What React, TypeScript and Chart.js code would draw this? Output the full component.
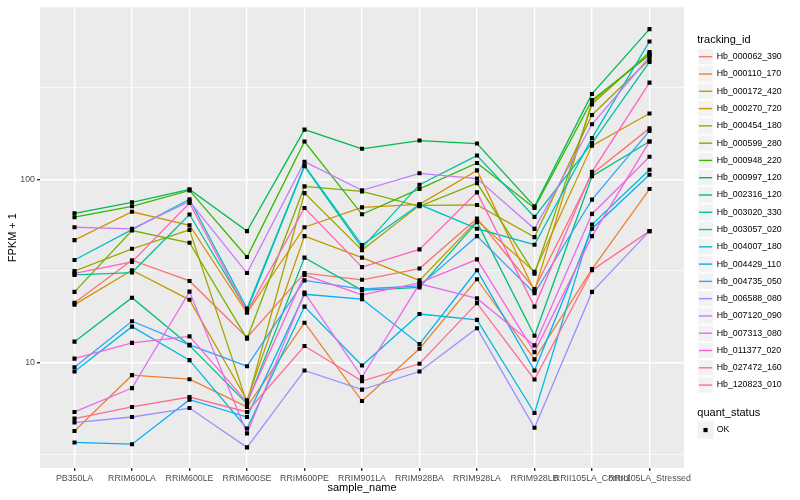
import React, { useEffect, useRef } from "react";
import { Chart, registerables } from "chart.js";

Chart.register(...registerables);

const categories = [
  "PB350LA",
  "RRIM600LA",
  "RRIM600LE",
  "RRIM600SE",
  "RRIM600PE",
  "RRIM901LA",
  "RRIM928BA",
  "RRIM928LA",
  "RRIM928LB",
  "RRII105LA_Control",
  "RRII105LA_Stressed",
];

const trackingIds = [
  "Hb_000062_390",
  "Hb_000110_170",
  "Hb_000172_420",
  "Hb_000270_720",
  "Hb_000454_180",
  "Hb_000599_280",
  "Hb_000948_220",
  "Hb_000997_120",
  "Hb_002316_120",
  "Hb_003020_330",
  "Hb_003057_020",
  "Hb_004007_180",
  "Hb_004429_110",
  "Hb_004735_050",
  "Hb_006588_080",
  "Hb_007120_090",
  "Hb_007313_080",
  "Hb_011377_020",
  "Hb_027472_160",
  "Hb_120823_010",
];

const seriesColors = [
  "#F8766D", "#EA8331", "#D89000", "#C09B00", "#A3A500",
  "#7CAE00", "#39B600", "#00BB4E", "#00BF7D", "#00C1A3",
  "#00BFC4", "#00BAE0", "#00B0F6", "#35A2FF", "#9590FF",
  "#C77CFF", "#E76BF3", "#FA62DB", "#FF62BC", "#FF6C91",
];

// FPKM + 1 per sample, in the order of `categories`
const hb_000062_390 = [21.2, 36.2, 27.9, 13.7, 30.8, 28.3, 32.6, 61.2, 25.2, 107, 190];
const hb_000110_170 = [4.23, 8.53, 8.11, 5.72, 16.5, 6.16, 11.9, 28.5, 10.4, 32.4, 88.6];
const hb_000172_420 = [46.6, 66.6, 56.2, 18.7, 54.8, 70.4, 73.1, 112, 24.6, 265, 487];
const hb_000270_720 = [20.7, 31.9, 22.0, 6.22, 49.0, 37.4, 28.1, 59.6, 31.3, 153, 229];
const hb_000454_180 = [31.6, 41.8, 53.0, 5.99, 84.2, 41.1, 72.2, 72.5, 48.4, 225, 452];
const hb_000599_280 = [24.3, 52.6, 45.1, 13.5, 91.6, 86.0, 71.3, 95.5, 30.6, 257, 496];
const hb_000948_220 = [62.2, 71.3, 87.1, 37.7, 161, 64.5, 88.8, 123, 69.8, 271, 478];
const hb_000997_120 = [65.3, 75.0, 88.2, 52.2, 187, 147, 163, 157, 71.3, 293, 662];
const hb_002316_120 = [13.0, 22.6, 12.4, 5.96, 37.4, 24.8, 25.7, 58.4, 14.0, 104, 161];
const hb_003020_330 = [30.1, 31.0, 64.3, 19.2, 118, 42.3, 93.6, 135, 62.4, 158, 438];
const hb_003057_020 = [36.3, 53.2, 77.9, 19.7, 119, 43.8, 72.9, 53.8, 44.0, 168, 567];
const hb_004007_180 = [8.93, 15.7, 10.3, 4.36, 20.2, 9.63, 18.4, 17.1, 5.3, 56.7, 113];
const hb_004429_110 = [3.66, 3.58, 6.27, 5.04, 23.6, 22.2, 12.6, 31.9, 9.05, 53.8, 106];
const hb_004735_050 = [9.43, 16.8, 12.5, 9.55, 28.1, 25.2, 26.2, 49.0, 23.9, 77.6, 184];
const hb_006588_080 = [4.7, 5.04, 5.64, 3.44, 9.05, 7.11, 8.93, 15.4, 4.4, 24.3, 52.2];
const hb_007120_090 = [54.8, 53.7, 75.9, 30.8, 125, 87.1, 108, 101, 53.7, 200, 466];
const hb_007313_080 = [5.37, 7.25, 24.4, 4.1, 24.1, 8.32, 26.9, 22.4, 12.4, 64.8, 133];
const hb_011377_020 = [10.5, 12.8, 13.9, 6.08, 30.1, 23.4, 27.2, 36.6, 11.4, 49.0, 161];
const hb_027472_160 = [30.7, 35.4, 74.3, 18.9, 69.8, 33.2, 41.5, 85.0, 20.2, 110, 338];
const hb_120823_010 = [4.94, 5.72, 6.48, 5.37, 12.3, 7.91, 9.84, 21.1, 8.08, 31.9, 52.2];

const seriesValues = [
  hb_000062_390, hb_000110_170, hb_000172_420, hb_000270_720, hb_000454_180,
  hb_000599_280, hb_000948_220, hb_000997_120, hb_002316_120, hb_003020_330,
  hb_003057_020, hb_004007_180, hb_004429_110, hb_004735_050, hb_006588_080,
  hb_007120_090, hb_007313_080, hb_011377_020, hb_027472_160, hb_120823_010,
];

const yBreaks = [3.1623, 10, 31.623, 100, 316.23];
const yTickLabels = ["", "10", "", "100", ""];
const quantStatus = ["OK"];

const FONT = "'Liberation Sans', Arial, Helvetica, sans-serif";

const panelPlugin = {
  id: "ggPanel",
  beforeDraw(chart: any) {
    const { ctx, chartArea: a } = chart;
    ctx.save();
    ctx.fillStyle = "#FFFFFF";
    ctx.fillRect(0, 0, chart.width, chart.height);
    ctx.fillStyle = "#EBEBEB";
    ctx.fillRect(a.left, a.top, a.right - a.left, a.bottom - a.top);
    ctx.restore();
  },
};

const legendPlugin = {
  id: "ggLegend",
  afterDraw(chart: any) {
    const ctx = chart.ctx;
    const x0 = 697.3;
    const keyW = 16.5;
    const keyH = 17.28;
    const textX = 716.7;
    ctx.save();
    ctx.textAlign = "left";
    ctx.textBaseline = "middle";
    ctx.fillStyle = "#000000";
    ctx.font = `11px ${FONT}`;
    ctx.fillText("tracking_id", x0, 39.5);
    const top0 = 48.1;
    trackingIds.forEach((id, i) => {
      const top = top0 + i * keyH;
      ctx.fillStyle = "#F2F2F2";
      ctx.fillRect(x0, top, keyW, keyH);
      ctx.strokeStyle = "#FFFFFF";
      ctx.lineWidth = 1;
      ctx.strokeRect(x0 + 0.5, top + 0.5, keyW - 1, keyH - 1);
      ctx.strokeStyle = seriesColors[i];
      ctx.lineWidth = 1.4;
      ctx.beginPath();
      ctx.moveTo(x0 + keyW * 0.1, top + keyH / 2);
      ctx.lineTo(x0 + keyW * 0.9, top + keyH / 2);
      ctx.stroke();
      ctx.fillStyle = "#000000";
      ctx.font = `8.8px ${FONT}`;
      ctx.fillText(id, textX, top + keyH / 2);
    });
    ctx.font = `11px ${FONT}`;
    ctx.fillText("quant_status", x0, 412.7);
    quantStatus.forEach((s, i) => {
      const top = 421.4 + i * keyH;
      ctx.fillStyle = "#F2F2F2";
      ctx.fillRect(x0, top, keyW, keyH);
      ctx.fillStyle = "#000000";
      const cx = x0 + keyW / 2;
      const cy = top + keyH / 2;
      ctx.fillRect(cx - 2.1, cy - 2.1, 4.2, 4.2);
      ctx.font = `8.8px ${FONT}`;
      ctx.fillText(s, textX, cy);
    });
    ctx.restore();
  },
};

export default function App() {
  const ref = useRef<HTMLCanvasElement | null>(null);

  useEffect(() => {
    if (!ref.current) return;
    const lineSets = seriesValues.map((vals, i) => ({
      label: trackingIds[i],
      data: vals.map((v, j) => ({ x: j + 1, y: v })),
      borderColor: seriesColors[i],
      backgroundColor: seriesColors[i],
      borderWidth: 1.3,
      pointRadius: 0,
      pointHoverRadius: 0,
      fill: false,
      tension: 0,
      order: 100 - i,
    }));
    const pointSets = seriesValues.map((vals, i) => ({
      label: trackingIds[i] + " " + quantStatus[0],
      data: vals.map((v, j) => ({ x: j + 1, y: v })),
      showLine: false,
      pointStyle: "rect",
      pointRadius: 2.9,
      pointHoverRadius: 2.9,
      pointBackgroundColor: "#000000",
      pointBorderColor: "#000000",
      pointBorderWidth: 0,
      order: 0,
    }));

    const chart = new Chart(ref.current, {
      type: "line",
      data: { datasets: [...lineSets, ...pointSets] as any },
      options: {
        animation: false,
        responsive: false,
        maintainAspectRatio: false,
        events: [],
        layout: { padding: { left: 0, right: 116, top: 5, bottom: 0 } },
        plugins: {
          legend: { display: false },
          tooltip: { enabled: false },
        },
        scales: {
          x: {
            type: "linear",
            min: 0.4,
            max: 11.6,
            bounds: "data",
            afterBuildTicks: (s: any) => {
              s.ticks = categories.map((_, i) => ({ value: i + 1 }));
            },
            afterFit: (s: any) => {
              s.height = 32;
            },
            ticks: {
              autoSkip: false,
              maxRotation: 0,
              minRotation: 0,
              padding: 2,
              color: "#4D4D4D",
              font: { size: 8.8, family: FONT },
              callback: (_v: any, i: number) => categories[i],
            },
            grid: {
              color: "#FFFFFF",
              lineWidth: 1.4,
              tickLength: 3,
              tickColor: "#333333",
              drawTicks: true,
            },
            border: { display: false },
            title: {
              display: true,
              text: "sample_name",
              color: "#000000",
              font: { size: 11, family: FONT },
              padding: { top: 0, bottom: 5 },
            },
          },
          y: {
            type: "logarithmic",
            min: 2.654,
            max: 871.3,
            bounds: "data",
            afterBuildTicks: (s: any) => {
              s.ticks = yBreaks.map((v) => ({ value: v }));
            },
            afterFit: (s: any) => {
              s.width = 40;
            },
            ticks: {
              autoSkip: false,
              padding: 2,
              color: "#4D4D4D",
              font: { size: 8.8, family: FONT },
              callback: (_v: any, i: number) => yTickLabels[i] ?? "",
            },
            grid: {
              color: "#FFFFFF",
              lineWidth: (c: any) => (yTickLabels[c.index] ? 1.4 : 0.7),
              tickLength: 3,
              tickColor: (c: any) => (yTickLabels[c.index] ? "#333333" : "rgba(0,0,0,0)"),
              drawTicks: true,
            },
            border: { display: false },
            title: {
              display: true,
              text: "FPKM + 1",
              color: "#000000",
              font: { size: 11, family: FONT },
              padding: { top: 6, bottom: 0 },
            },
          },
        },
      } as any,
      plugins: [panelPlugin, legendPlugin],
    });
    return () => chart.destroy();
  }, []);

  return (
    <div style={{ position: "absolute", left: 0, top: 0, width: 800, height: 500, background: "#FFFFFF" }}>
      <canvas ref={ref} width={800} height={500} style={{ display: "block", width: 800, height: 500 }} />
    </div>
  );
}
